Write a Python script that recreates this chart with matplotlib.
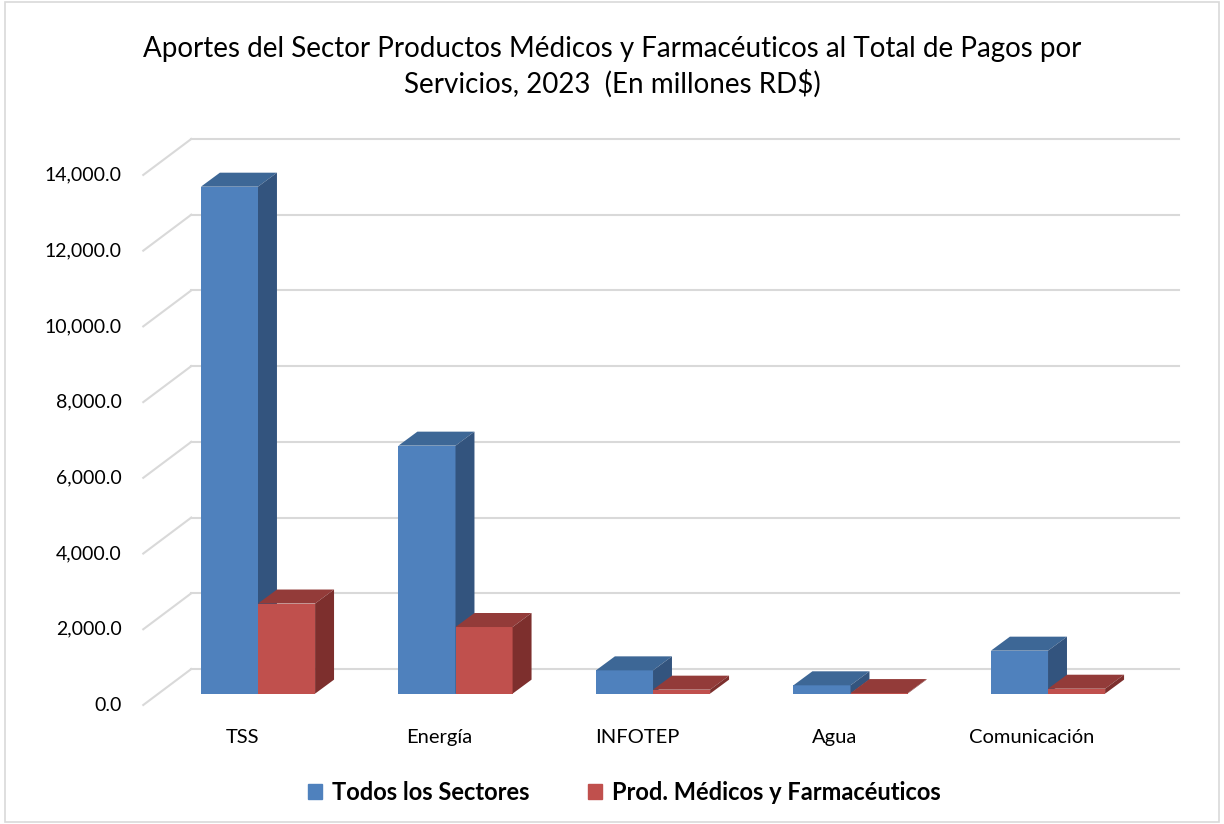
import matplotlib.pyplot as plt
from matplotlib.patches import Polygon, Rectangle

categorias = ['TSS', 'Energía', 'INFOTEP', 'Agua', 'Comunicación']
todos = [13390, 6550, 615, 220, 1135]
medicos = [2380, 1760, 105, 15, 130]
ticks = [0, 2000, 4000, 6000, 8000, 10000, 12000, 14000]
series = ['Todos los Sectores', 'Prod. Médicos y Farmacéuticos']

plt.rcParams['font.family'] = ['Lato', 'DejaVu Sans']

# colores (frente, tapa, lado)
azul = ('#4F81BD', '#3D6796', '#33547E')
rojo = ('#C0504D', '#933B39', '#7D2F2D')
grid = '#D9D9D9'

# proyeccion oblicua en unidades de datos
DX, DY = 0.243, 950      # profundidad del muro
FX, FY = 0.081, 300      # desplazamiento de la cara frontal de la barra
BX, BY = 0.096, 370      # profundidad de la barra
W = 0.289                # ancho de cada barra

fig = plt.figure(figsize=(12.24, 8.24), dpi=100)
ax = fig.add_axes([0, 0, 1, 1])
ax.set_xlim(-1.2253, 4.972)
ax.set_ylim(-3143, 18621)
ax.axis('off')

x0, x1 = -0.5, len(categorias) - 0.5
for t in ticks:
    ax.plot([x0, x0 + DX], [t, t + DY], color=grid, lw=1.5, zorder=1)
    ax.plot([x0 + DX, x1 + DX], [t + DY, t + DY], color=grid, lw=1.5, zorder=1)
    ax.text(x0 - 0.11, t, f'{t:,.1f}', ha='right', va='center', fontsize=14)


def barra(xl, v, cols):
    xr = xl + W
    y0 = FY
    y1 = v + FY
    ax.add_patch(Polygon([(xl, y0), (xr, y0), (xr, y1), (xl, y1)],
                         facecolor=cols[0], edgecolor='none', zorder=3))
    ax.add_patch(Polygon([(xl, y1), (xr, y1), (xr + BX, y1 + BY), (xl + BX, y1 + BY)],
                         facecolor=cols[1], edgecolor='none', zorder=3))
    ax.add_patch(Polygon([(xr, y0), (xr + BX, y0 + BY), (xr + BX, y1 + BY), (xr, y1)],
                         facecolor=cols[2], edgecolor='none', zorder=3))


for i, cat in enumerate(categorias):
    barra(i + FX - W, todos[i], azul)
    barra(i + FX, medicos[i], rojo)
    ax.text(i, -850, cat, ha='center', va='center', fontsize=14.5)

# titulo
fig.text(0.5, 0.919,
         'Aportes del Sector Productos Médicos y Farmacéuticos al Total de Pagos por\n'
         'Servicios, 2023  (En millones RD$)',
         ha='center', va='center', fontsize=20, linespacing=1.35)

# leyenda
leg = fig.legend([Rectangle((0, 0), 1, 1, color=azul[0]), Rectangle((0, 0), 1, 1, color=rojo[0])],
                 series, loc='center', bbox_to_anchor=(0.51, 0.038), ncol=2, frameon=False,
                 prop={'weight': 'bold', 'size': 17}, handlelength=0.6, handleheight=0.6,
                 columnspacing=2.5, handletextpad=0.4)

fig.patches.append(Rectangle((0.004, 0.002), 0.992, 0.996, transform=fig.transFigure,
                             fill=False, edgecolor='#D9D9D9', lw=1.2))

fig.savefig('out.png', dpi=100)
